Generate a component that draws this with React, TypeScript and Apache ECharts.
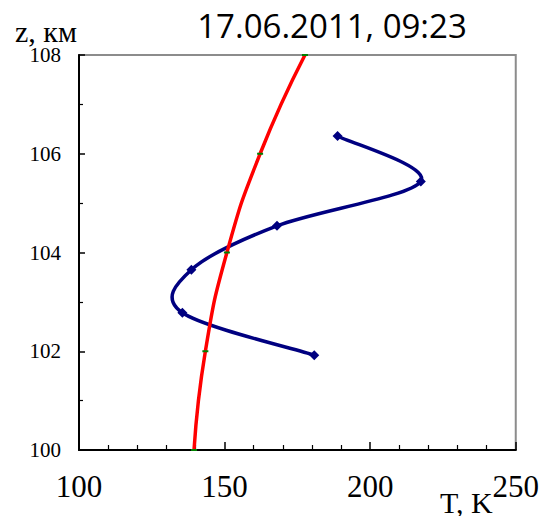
import React, { useEffect, useRef } from "react";
import * as echarts from "echarts";

const titleText = "17.06.2011, 09:23";
const yAxisName = "z, км";
const xAxisName = "T, K";

// Measured profile (blue, diamonds): temperature T (K), altitude z (km)
const measuredT = [188.8, 217.4, 168.0, 138.6, 135.5, 180.8];
const measuredZ = [106.36, 105.44, 104.54, 103.65, 102.78, 101.92];

// Model profile (red, green dash markers)
const modelT = [139.5, 143.4, 150.8, 162.2, 177.6];
const modelZ = [100, 102, 104, 106, 108];

const xMin = 100, xMax = 250, xInterval = 50;
const yMin = 100, yMax = 108, yInterval = 2;

export default function App() {
  const ref = useRef<HTMLDivElement>(null);
  useEffect(() => {
    if (!ref.current) return;
    const chart = echarts.init(ref.current, undefined, { renderer: "svg" });
    const serif = "'Liberation Serif', 'Times New Roman', serif";
    const n = measuredT.length;
    const measuredData = measuredT.map((t, i) => [t, measuredZ[i]]);

    // Excel-like smoothed segment (Catmull-Rom through the data points, via the axis scales)
    const renderSmooth = (params: any, api: any) => {
      const i = params.dataIndex;
      if (i >= n - 1) return null;
      const pt = (k: number) => {
        const kk = Math.max(0, Math.min(n - 1, k));
        return api.coord([measuredT[kk], measuredZ[kk]]);
      };
      const P0 = pt(i - 1), P1 = pt(i), P2 = pt(i + 1), P3 = pt(i + 2);
      const cpx1 = P1[0] + (P2[0] - P0[0]) / 6;
      const cpy1 = P1[1] + (P2[1] - P0[1]) / 6;
      const cpx2 = P2[0] - (P3[0] - P1[0]) / 6;
      const cpy2 = P2[1] - (P3[1] - P1[1]) / 6;
      return {
        type: "bezierCurve",
        shape: { x1: P1[0], y1: P1[1], cpx1, cpy1, cpx2, cpy2, x2: P2[0], y2: P2[1] },
        style: { stroke: "#000080", lineWidth: 3.5, fill: "none", lineCap: "round" },
      };
    };

    chart.setOption({
      animation: false,
      backgroundColor: "#ffffff",
      grid: {
        left: 79,
        right: 25,
        top: 55,
        bottom: 66,
        show: true,
        borderColor: "#8c8c8c",
        borderWidth: 2,
        backgroundColor: "transparent",
      },
      xAxis: {
        type: "value",
        min: xMin,
        max: xMax,
        interval: xInterval,
        axisLine: { show: true, onZero: false, lineStyle: { color: "#000", width: 2 } },
        axisTick: { show: true, inside: true, length: 8, lineStyle: { color: "#000", width: 1.5 } },
        minorTick: { show: true, splitNumber: 5, length: 5, lineStyle: { color: "#000", width: 1.2 } },
        splitLine: { show: false },
        axisLabel: {
          margin: 21,
          fontFamily: serif,
          fontSize: 31,
          lineHeight: 31,
          color: "#000",
        },
      },
      yAxis: {
        type: "value",
        min: yMin,
        max: yMax,
        interval: yInterval,
        axisLine: { show: true, onZero: false, lineStyle: { color: "#000", width: 2 } },
        axisTick: { show: true, inside: true, length: 6, lineStyle: { color: "#000", width: 1.5 } },
        minorTick: { show: true, splitNumber: 2, length: 4, lineStyle: { color: "#000", width: 1.2 } },
        splitLine: { show: false },
        axisLabel: {
          margin: 18,
          fontFamily: serif,
          fontSize: 21,
          color: "#000",
        },
      },
      graphic: [
        {
          type: "text",
          x: 332,
          y: 25,
          style: {
            text: titleText,
            fontFamily: "'Open Sans', 'Noto Sans', sans-serif",
            fontSize: 33,
            fill: "#000",
            align: "center",
            verticalAlign: "middle",
          },
        },
        {
          type: "text",
          x: 15,
          y: 31,
          style: {
            text: yAxisName,
            fontFamily: serif,
            fontSize: 30,
            lineHeight: 22,
            fill: "#000",
            align: "left",
            verticalAlign: "middle",
          },
        },
        {
          type: "text",
          x: 440,
          y: 502,
          style: {
            text: xAxisName,
            fontFamily: serif,
            fontSize: 30,
            lineHeight: 22,
            fill: "#000",
            align: "left",
            verticalAlign: "middle",
          },
        },
      ],
      series: [
        {
          type: "custom",
          data: measuredData,
          encode: { x: 0, y: 1 },
          renderItem: renderSmooth,
          z: 2,
        },
        {
          type: "scatter",
          data: measuredData,
          symbol: "diamond",
          symbolSize: 10,
          itemStyle: { color: "#000080", opacity: 1 },
          z: 3,
        },
        {
          type: "line",
          data: modelT.map((t, i) => [t, modelZ[i]]),
          smooth: true,
          symbol: "rect",
          symbolSize: [6, 2],
          showSymbol: true,
          lineStyle: { color: "#ff0000", width: 3.5 },
          itemStyle: { color: "#008000" },
          z: 4,
        },
      ],
    });
    return () => chart.dispose();
  }, []);
  return (
    <div
      ref={ref}
      style={{ position: "fixed", left: 0, top: 0, width: 542, height: 516, background: "#fff" }}
    />
  );
}
